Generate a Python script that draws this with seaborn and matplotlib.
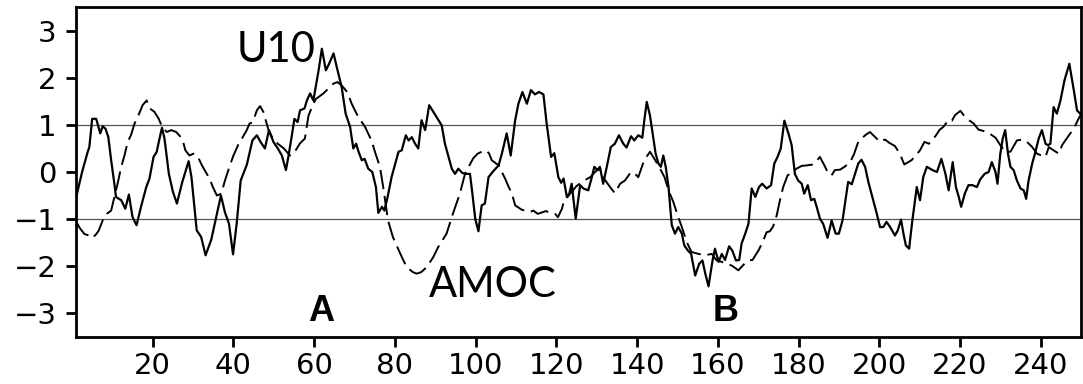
import matplotlib
matplotlib.use("Agg")
import matplotlib.pyplot as plt
import seaborn as sns
import pandas as pd

# U10 index (solid line): year, standardized value
u10_year = [
    1.0, 2.5, 3.9, 4.3, 5.0, 6.0, 7.0, 7.6, 8.3, 9.0, 9.7, 10.5, 10.9, 12.2, 13.2,
    14.1, 15.0, 16.0, 17.1, 18.4, 19.2, 20.2, 21.0, 21.5, 22.3, 22.9, 24.0, 25.0,
    26.0, 27.3, 28.9, 29.6, 30.9, 32.0, 33.1, 34.5, 36.9, 37.9, 38.9, 39.9, 40.8,
    41.8, 43.3, 44.7, 45.8, 46.7, 47.8, 48.8, 49.9, 51.0, 52.0, 53.0, 53.6, 54.4,
    55.1, 55.9, 56.5, 57.6, 58.2, 59.0, 59.8, 60.4, 61.1, 61.9, 62.9, 63.7, 64.8,
    65.6, 66.8, 67.8, 68.9, 69.7, 70.4, 71.0, 71.8, 72.5, 73.4, 74.4, 75.3, 75.9,
    76.8, 77.4, 78.2, 79.2, 80.1, 80.9, 81.7, 82.7, 83.4, 84.2, 85.0, 85.8, 86.6,
    87.5, 88.5, 89.5, 90.6, 91.6, 92.4, 93.3, 94.1, 94.9, 95.7, 96.7, 97.6, 98.6,
    99.2, 99.9, 100.7, 101.5, 102.3, 103.2, 104.2, 105.7, 106.5, 107.7, 108.7,
    109.8, 110.6, 111.6, 112.7, 113.7, 114.7, 115.7, 116.8, 117.6, 118.7, 119.5,
    120.5, 121.2, 121.8, 122.6, 123.2, 123.8, 124.8, 125.9, 126.7, 127.9, 128.8,
    129.4, 130.2, 130.8, 131.6, 132.5, 133.5, 134.5, 135.5, 136.6, 137.4, 138.5,
    139.3, 140.3, 141.3, 141.8, 142.4, 143.2, 144.0, 144.6, 145.3, 145.9, 146.5,
    147.1, 147.8, 148.2, 148.6, 149.4, 150.2, 151.1, 151.7, 152.6, 153.4, 154.4,
    155.4, 156.2, 156.9, 157.7, 158.7, 159.3, 160.2, 161.0, 161.8, 162.8, 163.6,
    164.5, 165.3, 165.9, 166.8, 167.6, 168.4, 169.3, 170.2, 171.0, 172.1, 173.2,
    174.0, 174.8, 175.6, 176.5, 177.5, 178.3, 179.1, 179.9, 180.8, 181.4, 182.3,
    183.1, 183.9, 184.5, 185.3, 186.1, 187.2, 188.2, 189.2, 190.0, 190.9, 191.7,
    192.3, 193.2, 194.0, 194.8, 195.6, 196.5, 197.3, 198.3, 199.4, 200.2, 201.0,
    201.8, 202.7, 203.9, 204.6, 205.4, 206.0, 206.6, 207.4, 208.2, 209.3, 210.1,
    210.9, 211.8, 213.2, 214.3, 215.4, 216.4, 217.2, 218.2, 219.0, 219.7, 220.3,
    221.2, 222.1, 223.1, 224.2, 225.0, 226.1, 227.1, 227.9, 228.8, 229.3, 230.0,
    230.6, 231.2, 231.9, 232.5, 233.3, 234.1, 235.0, 235.8, 236.4, 237.0, 237.9,
    238.7, 239.5, 240.3, 241.2, 241.8, 242.4, 243.2, 244.0, 244.9, 245.9, 247.1,
    248.2, 249.0, 250.0,
]
u10_value = [
    -0.55, 0.00, 0.43, 0.53, 1.13, 1.13, 0.82, 0.97, 0.92, 0.74, 0.25, -0.25, -0.53,
    -0.60, -0.78, -0.48, -0.96, -1.13, -0.74, -0.32, -0.14, 0.32, 0.43, 0.64, 0.94,
    0.72, -0.04, -0.42, -0.67, -0.22, 0.23, -0.11, -1.24, -1.38, -1.77, -1.44,
    -0.50, -0.86, -1.10, -1.75, -1.10, -0.18, 0.15, 0.67, 0.78, 0.64, 0.50, 0.89,
    0.64, 0.50, 0.35, 0.04, 0.32, 0.74, 1.13, 1.06, 1.31, 1.35, 1.52, 1.67, 1.52,
    1.81, 2.16, 2.62, 2.16, 2.30, 2.52, 2.23, 1.81, 1.24, 0.96, 0.50, 0.60, 0.43,
    0.25, 0.28, 0.07, 0.00, -0.32, -0.87, -0.74, -0.82, -0.53, -0.10, 0.18, 0.43,
    0.46, 0.78, 0.67, 0.74, 0.60, 0.50, 1.10, 0.89, 1.42, 1.28, 1.13, 0.99, 0.60,
    0.32, 0.07, -0.04, 0.07, -0.02, -0.04, -0.04, -0.46, -0.99, -1.26, -0.71,
    -0.67, -0.11, 0.00, 0.14, 0.39, 0.82, 0.35, 1.10, 1.45, 1.70, 1.45, 1.74, 1.65,
    1.70, 1.65, 1.03, 0.32, 0.40, -0.11, -0.23, -0.14, -0.53, -0.46, -0.25, -0.99,
    -0.28, -0.35, -0.39, -0.11, 0.11, 0.04, 0.11, -0.25, 0.11, 0.53, 0.60, 0.78,
    0.60, 0.52, 0.76, 0.67, 0.78, 0.73, 1.10, 1.49, 1.20, 0.74, 0.39, 0.18, 0.11,
    0.35, 0.11, -0.32, -0.74, -1.13, -1.31, -1.17, -1.31, -1.56, -1.67, -1.74,
    -2.20, -1.95, -1.88, -2.16, -2.43, -1.88, -1.63, -1.91, -1.74, -1.87, -1.58,
    -1.67, -1.88, -1.87, -1.52, -1.31, -1.10, -0.35, -0.53, -0.32, -0.25, -0.35,
    -0.28, 0.18, 0.32, 0.50, 1.09, 0.82, 0.57, -0.04, -0.18, -0.25, -0.46, -0.28,
    -0.60, -0.57, -0.74, -0.99, -1.10, -1.40, -1.03, -1.31, -1.31, -1.03, -0.57,
    -0.21, -0.26, -0.04, 0.18, 0.26, 0.11, -0.21, -0.53, -0.89, -1.17, -1.17,
    -1.06, -1.17, -1.35, -1.24, -1.01, -1.31, -1.56, -1.63, -1.03, -0.32, -0.60,
    -0.11, 0.11, 0.04, 0.00, 0.28, -0.04, -0.39, 0.21, -0.32, -0.53, -0.74, -0.46,
    -0.28, -0.28, -0.32, -0.16, -0.04, 0.00, 0.21, 0.00, -0.25, 0.39, 0.71, 0.89,
    0.39, 0.11, 0.04, -0.18, -0.35, -0.39, -0.57, -0.18, 0.18, 0.43, 0.71, 0.89,
    0.60, 0.57, 0.60, 1.38, 1.24, 1.52, 1.95, 2.30, 1.74, 1.31, 1.22,
]

# AMOC index (dashed line): year, standardized value
amoc_year = [
    1.0, 2.0, 3.1, 4.3, 5.1, 6.0, 6.6, 7.6, 8.6, 9.7, 10.5, 11.3, 12.2, 13.0, 13.8,
    14.6, 15.5, 16.3, 17.5, 18.5, 19.3, 20.4, 21.5, 22.3, 23.5, 24.6, 25.8, 27.3,
    28.1, 29.1, 30.1, 31.2, 32.2, 33.4, 34.1, 34.9, 35.9, 37.0, 37.8, 39.0, 40.0,
    41.3, 42.3, 43.3, 44.0, 44.8, 45.8, 46.6, 47.4, 48.0, 48.7, 49.5, 51.0, 52.5,
    54.0, 54.9, 56.5, 57.7, 58.6, 59.8, 60.4, 62.3, 63.5, 64.8, 65.8, 66.8, 68.2,
    69.3, 70.5, 71.5, 72.6, 74.2, 75.2, 76.3, 77.1, 78.3, 79.5, 81.3, 82.9, 84.5,
    85.4, 86.5, 87.9, 89.5, 90.7, 92.8, 94.4, 96.1, 97.4, 99.4, 100.5, 101.5,
    102.5, 103.3, 104.0, 105.7, 107.3, 108.2, 109.0, 109.8, 111.4, 113.5, 114.3,
    115.4, 117.4, 118.5, 119.7, 120.4, 121.4, 121.8, 123.5, 125.0, 126.5, 128.4,
    130.4, 131.5, 133.3, 134.5, 135.8, 137.0, 138.5, 139.5, 140.3, 141.6, 142.0,
    143.2, 144.5, 145.7, 146.8, 147.8, 149.0, 150.2, 151.1, 152.3, 153.5, 155.2,
    156.9, 158.5, 159.7, 161.0, 163.5, 165.1, 166.6, 167.6, 168.6, 170.2, 171.3,
    172.1, 172.9, 173.7, 174.6, 175.4, 176.2, 177.3, 178.3, 179.5, 180.8, 182.0,
    183.7, 185.3, 186.6, 187.4, 188.2, 189.0, 190.3, 191.4, 192.8, 193.8, 194.8,
    196.5, 197.7, 199.0, 200.2, 201.4, 202.5, 203.9, 205.1, 206.2, 207.2, 208.0,
    209.0, 210.1, 211.2, 212.3, 213.9, 215.0, 215.9, 217.2, 218.0, 218.8, 220.1,
    221.0, 222.1, 223.4, 224.6, 225.9, 227.1, 228.8, 230.0, 231.2, 232.5, 234.1,
    235.4, 236.6, 237.9, 239.1, 240.2, 241.2, 242.0, 243.2, 244.5, 245.3, 247.0,
    248.2, 249.6, 250.0,
]
amoc_value = [
    -1.05, -1.20, -1.32, -1.35, -1.40, -1.32, -1.25, -1.03, -0.89, -0.82, -0.53,
    -0.25, 0.11, 0.35, 0.64, 0.78, 1.03, 1.17, 1.42, 1.52, 1.35, 1.28, 1.13, 0.96,
    0.85, 0.89, 0.85, 0.71, 0.46, 0.35, 0.39, 0.32, 0.14, -0.04, -0.14, -0.32,
    -0.50, -0.46, -0.21, 0.11, 0.35, 0.60, 0.74, 0.89, 1.03, 1.06, 1.31, 1.40,
    1.28, 1.10, 0.89, 0.75, 0.60, 0.50, 0.35, 0.39, 0.61, 0.71, 1.20, 1.45, 1.55,
    1.67, 1.77, 1.88, 1.91, 1.84, 1.70, 1.45, 1.24, 1.10, 0.96, 0.67, 0.39, 0.11,
    -0.32, -1.03, -1.38, -1.73, -2.02, -2.13, -2.16, -2.13, -2.02, -1.81, -1.60,
    -1.31, -0.88, -0.46, -0.03, 0.29, 0.39, 0.43, 0.46, 0.40, 0.25, 0.14, -0.14,
    -0.32, -0.46, -0.71, -0.80, -0.85, -0.82, -0.89, -0.83, -0.87, -0.89, -0.96,
    -0.78, -0.64, -0.45, -0.30, -0.20, -0.11, 0.07, -0.10, -0.32, -0.45, -0.25,
    -0.18, 0.00, -0.04, -0.11, 0.21, 0.28, 0.43, 0.25, 0.07, -0.11, -0.39, -0.64,
    -0.96, -1.17, -1.49, -1.70, -1.74, -1.77, -1.74, -1.88, -1.91, -1.99, -2.09,
    -1.95, -1.88, -1.87, -1.65, -1.45, -1.28, -1.26, -1.16, -0.92, -0.60, -0.32,
    -0.07, -0.02, 0.07, 0.13, 0.14, 0.16, 0.32, 0.11, -0.04, -0.07, 0.04, 0.05,
    0.11, 0.21, 0.39, 0.64, 0.78, 0.85, 0.74, 0.64, 0.69, 0.62, 0.55, 0.39, 0.16,
    0.21, 0.25, 0.35, 0.46, 0.64, 0.60, 0.76, 0.90, 0.96, 1.11, 1.09, 1.21, 1.30,
    1.20, 1.11, 1.03, 0.90, 0.87, 0.83, 0.73, 0.57, 0.43, 0.43, 0.67, 0.69, 0.64,
    0.53, 0.39, 0.35, 0.32, 0.53, 0.46, 0.39, 0.57, 0.78, 0.92, 1.17, 1.22,
]

x_ticks = [20, 40, 60, 80, 100, 120, 140, 160, 180, 200, 220, 240]
y_ticks = [-3, -2, -1, 0, 1, 2, 3]

sns.set_style("ticks")
plt.rcParams["font.family"] = ["DejaVu Sans"]
plt.rcParams["axes.linewidth"] = 2.0
plt.rcParams["axes.unicode_minus"] = True
plt.rcParams["text.color"] = "black"

u10 = pd.DataFrame({"year": u10_year, "value": u10_value})
amoc = pd.DataFrame({"year": amoc_year, "value": amoc_value})

fig = plt.figure(figsize=(10.83, 3.84), dpi=100)
ax = fig.add_axes([0.0702, 0.1232, 0.928, 0.8578])

# +/- 1 standard deviation guides
for level in (-1, 1):
    ax.axhline(level, color="#555555", lw=0.9, zorder=1)

sns.lineplot(data=u10, x="year", y="value", ax=ax, color="black", lw=1.6,
             estimator=None, sort=False, zorder=3)
sns.lineplot(data=amoc, x="year", y="value", ax=ax, color="black", lw=1.4,
             estimator=None, sort=False, linestyle=(0, (10, 3.5)), zorder=2)

ax.set_xlim(1, 250)
ax.set_ylim(-3.5, 3.5)
ax.set_xticks(x_ticks)
ax.set_yticks(y_ticks)
ax.set_xlabel("")
ax.set_ylabel("")
for s in ax.spines.values():
    s.set_visible(True)
    s.set_color("black")
    s.set_linewidth(2.0)
ax.tick_params(axis="both", direction="out", length=7, width=2, color="black",
               labelsize=21, labelcolor="black")
ax.tick_params(axis="x", pad=4)
ax.tick_params(axis="y", pad=7)

label_font = ["Lato", "DejaVu Sans"]
mark_font = ["Liberation Sans", "DejaVu Sans"]
ax.text(40.8, 2.34, "U10", fontsize=30, family=label_font, color="black",
        va="baseline", ha="left")
ax.text(88.3, -2.66, "AMOC", fontsize=30, family=label_font, color="black",
        va="baseline", ha="left")
ax.text(61.7, -3.16, "A", fontsize=26, fontweight="bold", family=mark_font,
        color="black", va="baseline", ha="center")
ax.text(162.0, -3.16, "B", fontsize=26, fontweight="bold", family=mark_font,
        color="black", va="baseline", ha="center")

fig.savefig("out.png", dpi=100)
